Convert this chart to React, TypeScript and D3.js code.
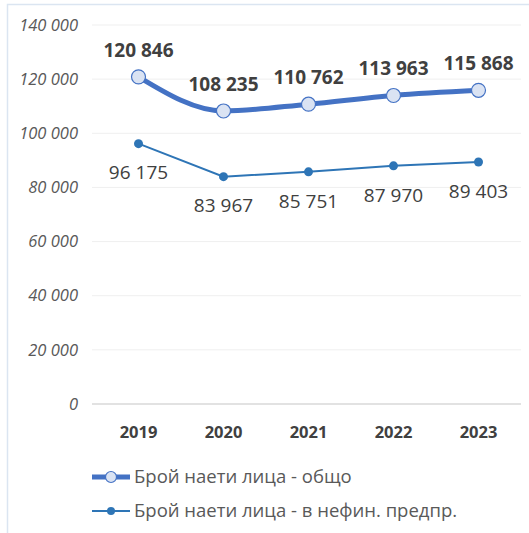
import * as d3 from "d3";
import { useEffect, useRef } from "react";

const years = ["2019", "2020", "2021", "2022", "2023"];
const totalEmployed = [120846, 108235, 110762, 113963, 115868];
const nonFinEmployed = [96175, 83967, 85751, 87970, 89403];
const yTicks = [0, 20000, 40000, 60000, 80000, 100000, 120000, 140000];
const seriesNames = ["Брой наети лица - общо", "Брой наети лица - в нефин. предпр."];

const fmt = (v: number) => d3.format(",")(v).replace(/,/g, " ");

export default function App() {
  const ref = useRef<SVGSVGElement>(null);

  useEffect(() => {
    const svg = d3.select(ref.current);
    svg.selectAll("*").remove();
    const W = 529, H = 533;
    const margin = { top: 25, right: 8, bottom: 129, left: 96 };
    const width = W - margin.left - margin.right;
    const height = H - margin.top - margin.bottom;
    const font = "'Open Sans', 'Noto Sans', sans-serif";

    svg.append("rect").attr("width", W).attr("height", H).attr("fill", "#fff");
    svg.append("rect")
      .attr("x", 7.5).attr("y", 4.5).attr("width", W).attr("height", H)
      .attr("fill", "none").attr("stroke", "#dbe5f1").attr("stroke-width", 1.5);

    const g = svg.append("g").attr("transform", "translate(" + margin.left + "," + margin.top + ")");

    const x = d3.scalePoint().domain(years).range([0, width]).padding(0.5);
    const y = d3.scaleLinear().domain([0, 140000]).range([height, 0]);

    // grid
    g.selectAll("line.grid")
      .data(yTicks)
      .enter()
      .append("line")
      .attr("x1", -4).attr("x2", width)
      .attr("y1", d => y(d)).attr("y2", d => y(d))
      .attr("stroke", d => d === 0 ? "#d9d9d9" : "#efefef")
      .attr("stroke-width", d => d === 0 ? 1.5 : 1);

    g.selectAll("text.ytick")
      .data(yTicks)
      .enter()
      .append("text")
      .attr("x", -18).attr("y", d => y(d)).attr("dy", "0.35em")
      .attr("text-anchor", "end")
      .attr("font-family", font).attr("font-size", 16.5).attr("font-style", "italic")
      .attr("fill", "#595959")
      .text(d => fmt(d));

    g.selectAll("text.xtick")
      .data(years)
      .enter()
      .append("text")
      .attr("x", d => x(d)).attr("y", height + 28)
      .attr("dy", "0.35em")
      .attr("text-anchor", "middle")
      .attr("font-family", font).attr("font-size", 16.5).attr("font-weight", "bold")
      .attr("fill", "#404040")
      .text(d => d);

    const line = d3.line<number>()
      .x((d, i) => x(years[i]))
      .y(d => y(d));

    // series 2
    g.append("path")
      .datum(nonFinEmployed)
      .attr("d", line)
      .attr("fill", "none").attr("stroke", "#2e75b6").attr("stroke-width", 2);
    g.selectAll("circle.s2")
      .data(nonFinEmployed)
      .enter()
      .append("circle")
      .attr("cx", (d, i) => x(years[i])).attr("cy", d => y(d))
      .attr("r", 4.5).attr("fill", "#2e75b6");
    g.selectAll("text.s2")
      .data(nonFinEmployed)
      .enter()
      .append("text")
      .attr("x", (d, i) => x(years[i])).attr("y", d => y(d) + 29)
      .attr("dy", "0.35em").attr("text-anchor", "middle")
      .attr("font-family", font).attr("font-size", 19)
      .attr("fill", "#404040")
      .text(d => fmt(d));

    // series 1
    g.append("path")
      .datum(totalEmployed)
      .attr("d", line.curve(d3.curveMonotoneX))
      .attr("fill", "none").attr("stroke", "#4472c4").attr("stroke-width", 5)
      .attr("stroke-linecap", "round");
    g.selectAll("circle.s1")
      .data(totalEmployed)
      .enter()
      .append("circle")
      .attr("cx", (d, i) => x(years[i])).attr("cy", d => y(d))
      .attr("r", 7).attr("fill", "#dae3f3").attr("stroke", "#4472c4").attr("stroke-width", 1.2);
    g.selectAll("text.s1")
      .data(totalEmployed)
      .enter()
      .append("text")
      .attr("x", (d, i) => x(years[i])).attr("y", d => y(d) - 27)
      .attr("dy", "0.35em").attr("text-anchor", "middle")
      .attr("font-family", font).attr("font-size", 19).attr("font-weight", "bold")
      .attr("fill", "#404040")
      .text(d => fmt(d));

    // legend
    const legend = svg.append("g").attr("transform", "translate(92,477)");
    seriesNames.forEach((name, i) => {
      const row = legend.append("g").attr("transform", "translate(0," + i * 34 + ")");
      row.append("line")
        .attr("x1", 0).attr("x2", 38).attr("y1", 0).attr("y2", 0)
        .attr("stroke", i === 0 ? "#4472c4" : "#2e75b6")
        .attr("stroke-width", i === 0 ? 5 : 2);
      if (i === 0) {
        row.append("circle").attr("cx", 19).attr("cy", 0).attr("r", 5.5)
          .attr("fill", "#dae3f3").attr("stroke", "#4472c4").attr("stroke-width", 1.2);
      } else {
        row.append("circle").attr("cx", 19).attr("cy", 0).attr("r", 4).attr("fill", "#2e75b6");
      }
      row.append("text")
        .attr("x", 42).attr("y", 0).attr("dy", "0.35em")
        .attr("font-family", font).attr("font-size", 18.5)
        .attr("fill", "#595959")
        .text(name);
    });
  }, []);

  return (
    <svg ref={ref} width={529} height={533}
      style={{ position: "absolute", left: 0, top: 0, display: "block" }} />
  );
}
